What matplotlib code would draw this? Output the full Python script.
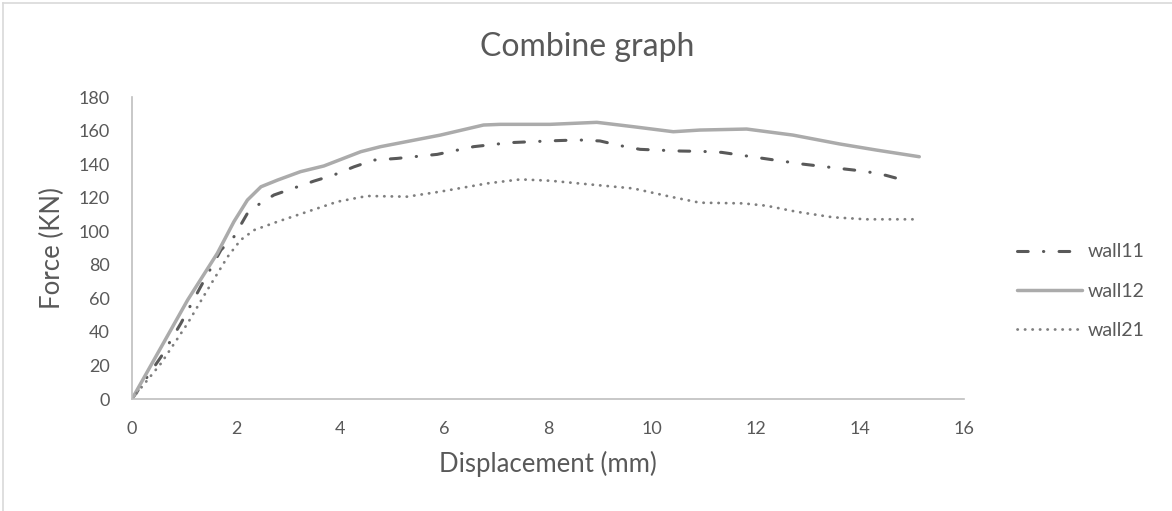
import matplotlib
matplotlib.use("Agg")
import matplotlib.pyplot as plt
from matplotlib.lines import Line2D

plt.rcParams['font.family'] = ['Lato', 'DejaVu Sans']

# ---- data ----
wall11_x = [0, 0.56, 0.94, 1.32, 1.71, 1.96, 2.22, 2.44, 2.73, 3.50, 3.88, 4.27, 4.65, 5.10,
            5.87, 6.57, 7.27, 8.17, 8.59, 9.00, 9.39, 9.77, 10.54, 10.95, 11.34, 12.14,
            12.90, 13.70, 14.10, 14.50, 14.95]
wall11_y = [0, 25.2, 45.1, 66.9, 88.8, 96.7, 110.7, 116.0, 121.6, 129.9, 133.5, 138.4, 142.4,
            143.4, 145.8, 150.4, 152.8, 154.0, 154.4, 153.8, 151.0, 148.8, 147.8, 147.6,
            147.0, 143.4, 140.0, 137.1, 135.7, 133.3, 129.5]

wall12_x = [0, 1.07, 1.64, 1.96, 2.22, 2.48, 2.80, 3.24, 3.69, 4.40, 4.78, 5.93, 6.76, 7.08,
            8.04, 8.94, 9.64, 10.41, 10.92, 11.82, 12.71, 13.61, 14.31, 15.14]
wall12_y = [0, 59.0, 86.8, 105.7, 118.6, 126.5, 130.5, 135.5, 138.9, 147.4, 150.4, 157.3,
            163.3, 163.7, 163.7, 164.9, 162.3, 159.3, 160.3, 160.9, 157.3, 152.0, 148.4, 144.4]

wall21_x = [0, 0.56, 1.07, 1.45, 1.84, 2.09, 2.35, 2.80, 3.37, 3.95, 4.52, 5.29, 5.93, 6.83,
            7.47, 8.04, 8.94, 9.64, 10.35, 10.92, 11.75, 12.20, 12.78, 13.48, 14.12, 15.08]
wall21_y = [0, 21.3, 45.1, 65.0, 84.8, 94.8, 100.7, 105.7, 111.6, 117.6, 121.0, 120.6, 123.6,
            128.5, 130.9, 130.1, 127.5, 125.5, 120.6, 117.0, 116.6, 115.2, 111.6, 108.3,
            107.1, 107.1]

series_labels = ['wall11', 'wall12', 'wall21']
x_ticks = [0, 2, 4, 6, 8, 10, 12, 14, 16]
y_ticks = [0, 20, 40, 60, 80, 100, 120, 140, 160, 180]

TEXT = '#595959'
W, H, DPI = 1172, 511, 100
fig = plt.figure(figsize=(W / DPI, H / DPI), dpi=DPI)
ax = fig.add_axes([132 / W, 1 - 399 / H, (964 - 132) / W, (399 - 97) / H])

l11, = ax.plot(wall11_x, wall11_y, color='#595959', lw=2.2,
               linestyle=(0, (3.5, 5, 0.1, 5)), dash_capstyle='round', solid_capstyle='round')
l12, = ax.plot(wall12_x, wall12_y, color='#ABABAB', lw=2.5, solid_capstyle='round')
l21, = ax.plot(wall21_x, wall21_y, color='#7F7F7F', lw=2.0,
               linestyle=(0, (0.1, 2.6)), dash_capstyle='round')

ax.set_xlim(0, 16)
ax.set_ylim(0, 180)
ax.set_xticks(x_ticks)
ax.set_yticks(y_ticks)
ax.tick_params(length=0, labelsize=13, labelcolor=TEXT)
ax.tick_params(axis='x', pad=16)
ax.tick_params(axis='y', pad=16)
for s in ['top', 'right']:
    ax.spines[s].set_visible(False)
for s in ['left', 'bottom']:
    ax.spines[s].set_color('#BFBFBF')
    ax.spines[s].set_linewidth(1.2)

ax.set_xlabel('Displacement (mm)', fontsize=18.5, color=TEXT, labelpad=10)
ax.set_ylabel('Force (KN)', fontsize=18.5, color=TEXT, labelpad=10)
fig.text(587 / W, 1 - 47 / H, 'Combine graph', ha='center', va='center', fontsize=23, color=TEXT)

leg = fig.legend([l11, l12, l21], series_labels, loc='center left',
                 bbox_to_anchor=(1017 / W, 1 - 291 / H), frameon=False, fontsize=14,
                 handlelength=3.35, handletextpad=0.3, labelspacing=1.14,
                 borderpad=0, borderaxespad=0)
for t in leg.get_texts():
    t.set_color(TEXT)

# chart-area border (top and left visible)
fig.add_artist(Line2D([3 / W, 3 / W], [0, 1 - 3 / H], color='#D9D9D9', lw=1.2))
fig.add_artist(Line2D([3 / W, 1], [1 - 3 / H, 1 - 3 / H], color='#D9D9D9', lw=1.2))

fig.savefig('out.png', dpi=DPI)
